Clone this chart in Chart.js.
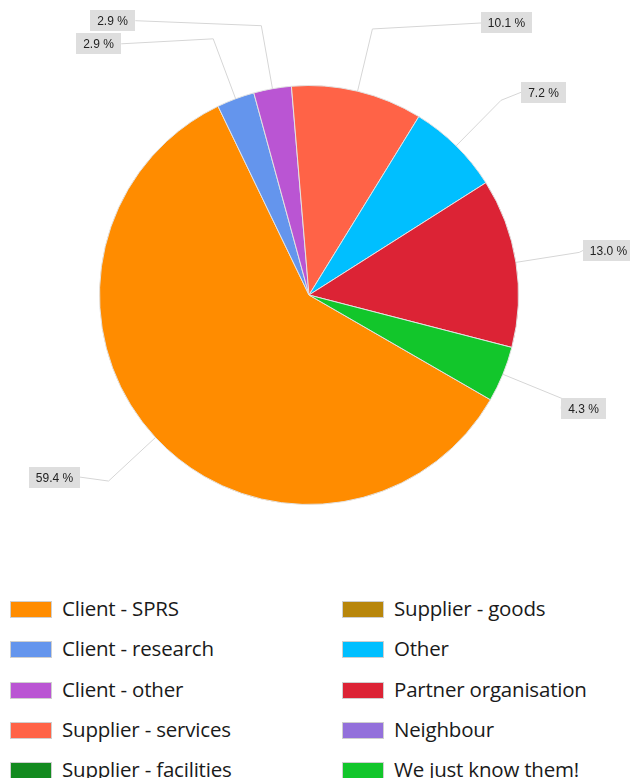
<!DOCTYPE html>
<html>
<head>
<meta charset="utf-8">
<script src="https://cdn.jsdelivr.net/npm/chart.js@4.4.1/dist/chart.umd.min.js"></script>
<style>
  html, body { margin: 0; padding: 0; background: #fff; overflow: hidden; }
  #wrap { position: relative; width: 630px; height: 778px; }
  #chartBox { position: absolute; left: 0; top: 0; width: 630px; height: 560px; }
  .leg { position: absolute; height: 20px; font: 20.5px "Open Sans", sans-serif; color: #1a1a1a; white-space: nowrap; letter-spacing: -0.2px; }
  .leg i { position: absolute; left: 0; top: 1px; width: 40px; height: 15px; border: 1px solid #cfcfcf; }
  .leg span { position: absolute; left: 52px; top: -6px; }
</style>
</head>
<body>
<div id="wrap">
  <div id="chartBox"><canvas id="pie"></canvas></div>
  <div id="legend"></div>
</div>
<script>
// ===== Dados =====
const categories = [
  'Client - SPRS', 'Client - research', 'Client - other', 'Supplier - services',
  'Supplier - facilities', 'Supplier - goods', 'Other', 'Partner organisation',
  'Neighbour', 'We just know them!'
];
const shares = [59.4, 2.9, 2.9, 10.1, 0, 0, 7.2, 13.0, 0, 4.3];
const sliceColors = [
  '#FF8C00', '#6495ED', '#BA55D3', '#FF6347', '#138A1F',
  '#B8860B', '#00BFFF', '#DC2335', '#9370DB', '#12C62B'
];

// deslocamento das etiquetas em relação ao cotovelo da linha guia
const labelShift = {
  0: [-29, -4], 1: [-92, 5], 2: [-126, -5], 3: [109, -6],
  6: [20, -8], 7: [4, -2], 9: [-1, 10]
};

// ===== Etiquetas externas com linha guia =====
const outsideLabels = {
  id: 'outsideLabels',
  afterDatasetsDraw(chart) {
    const { ctx } = chart;
    const meta = chart.getDatasetMeta(0);
    ctx.save();
    ctx.font = '12px "Liberation Sans", Arial, sans-serif';
    ctx.textBaseline = 'middle';
    meta.data.forEach((arc, i) => {
      const v = shares[i];
      if (!v) return;
      const { x, y, outerRadius, startAngle, endAngle } = arc.getProps(
        ['x', 'y', 'outerRadius', 'startAngle', 'endAngle'], true);
      const a = (startAngle + endAngle) / 2;
      const ex = x + outerRadius * Math.cos(a), ey = y + outerRadius * Math.sin(a);
      const kx = x + (outerRadius + 64) * Math.cos(a), ky = y + (outerRadius + 64) * Math.sin(a);
      const txt = v.toFixed(1) + ' %';
      const w = Math.round(ctx.measureText(txt).width) + 14, h = 21;
      const [dx, dy] = labelShift[i] || [0, 0];
      const right = Math.cos(a) >= 0;
      const bx = right ? kx + dx : kx + dx - w;
      const cy = ky + dy;
      const by = Math.round(cy - h / 2);
      const lx = right ? bx : bx + w;

      ctx.strokeStyle = '#d6d6d6';
      ctx.lineWidth = 1;
      ctx.beginPath();
      ctx.moveTo(ex, ey);
      ctx.lineTo(kx, ky);
      ctx.lineTo(lx, cy);
      ctx.stroke();

      ctx.fillStyle = '#dedede';
      ctx.fillRect(Math.round(bx), by, w, h);
      ctx.fillStyle = '#222';
      ctx.textAlign = 'center';
      ctx.fillText(txt, Math.round(bx) + w / 2, by + h / 2 + 1);
    });
    ctx.restore();
  }
};

new Chart(document.getElementById('pie'), {
  type: 'pie',
  data: {
    labels: categories,
    datasets: [{
      data: shares,
      backgroundColor: sliceColors,
      borderColor: '#e2e2e2',
      borderWidth: 1
    }]
  },
  options: {
    responsive: true,
    maintainAspectRatio: false,
    animation: false,
    rotation: 120,
    layout: { padding: { left: 99, right: 111, top: 85, bottom: 55 } },
    plugins: { legend: { display: false }, tooltip: { enabled: false } }
  },
  plugins: [outsideLabels]
});

// ===== Legenda em duas colunas =====
const legend = document.getElementById('legend');
categories.forEach((c, i) => {
  const col = i < 5 ? 0 : 1, row = i % 5;
  const d = document.createElement('div');
  d.className = 'leg';
  d.style.left = (col ? 342 : 10) + 'px';
  d.style.top = (600 + row * 40.3) + 'px';
  d.innerHTML = `<i style="background:${sliceColors[i]}"></i><span>${c}</span>`;
  legend.appendChild(d);
});
</script>
</body>
</html>
